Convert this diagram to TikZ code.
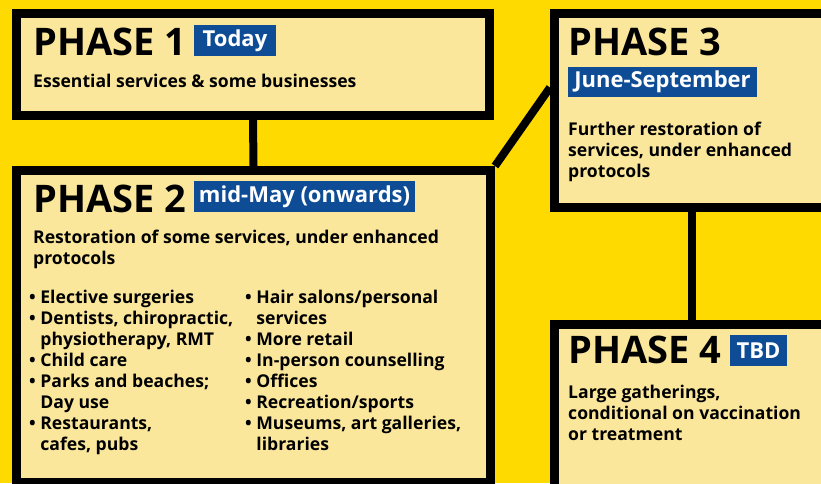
\documentclass[tikz,border=0pt]{standalone}
\usepackage{fontspec}
\setmainfont{Open Sans}
\usetikzlibrary{calc}
\definecolor{hgelb}{HTML}{FFDA00}
\definecolor{boxgelb}{HTML}{FBE79B}
\definecolor{blau}{HTML}{0E4C96}
\tikzset{
  phasebox/.style={draw=black,fill=boxgelb,line width=9pt,inner sep=0pt,anchor=north west},
  link/.style={black,line width=8pt},
  titel/.style={anchor=base west,inner sep=0pt,font=\fontsize{38}{38}\selectfont\bfseries},
  badge/.style={fill=blau,text=white,inner sep=0pt,minimum height=31pt,font=\fontsize{22}{22}\selectfont\bfseries},
  txt/.style={anchor=base west,inner sep=0pt,align=left,font=\fontsize{17.6}{21}\selectfont\bfseries},
}
\newcommand{\pkt}{\textbullet\ }
\newcommand{\ein}{\phantom{\textbullet}\ }

\begin{document}
\begin{tikzpicture}[x=1pt,y=-1pt]
  \useasboundingbox (0,0) rectangle (821,483);
  \fill[hgelb] (0,0) rectangle (821,483);
  \clip (0,0) rectangle (821,483);
  % Kaesten
  \node[phasebox,minimum width=473pt,minimum height=102pt] (p1) at (12,9) {};
  \node[phasebox,minimum width=474pt,minimum height=312pt] (p2) at (12,166) {};
  \node[phasebox,minimum width=290pt,minimum height=194pt] (p3) at (550,9) {};
  \node[phasebox,minimum width=290pt,minimum height=175pt] (p4) at (550,320) {};
  % Verbindungen
  \draw[link] (p1.south) -- (p2.north);
  \draw[link] (p2.north east) -- ([yshift=23pt]p3.west);
  \draw[link] ([xshift=-8pt]p3.south) -- ([xshift=-8pt]p3.south |- p4.north);
  % Phase 1
  \node[titel] (t1) at (33,55) {PHASE 1};
  \node[badge,minimum width=82pt] (d1) at (235,40.5) {Today};
  \node[txt] (x1) at (33,87) {Essential services \& some businesses};
  % Phase 2 (base = letzte Zeile)
  \node[titel] (t2) at (33,212) {PHASE 2};
  \node[badge,minimum width=221pt] (d2) at (304.5,196.5) {mid-May (onwards)};
  \node[txt] (x2) at (33,264) {Restoration of some services, under enhanced\\protocols};
  \node[txt] (l2) at (29,450) {\pkt Elective surgeries\\
    \pkt Dentists, chiropractic,\\ \ein physiotherapy, RMT\\
    \pkt Child care\\
    \pkt Parks and beaches;\\ \ein Day use\\
    \pkt Restaurants,\\ \ein cafes, pubs};
  \node[txt] (r2) at (245,450) {\pkt Hair salons/personal\\ \ein services\\
    \pkt More retail\\
    \pkt In-person counselling\\
    \pkt Offices\\
    \pkt Recreation/sports\\
    \pkt Museums, art galleries,\\ \ein libraries};
  % Phase 3
  \node[titel] (t3) at (568,55) {PHASE 3};
  \node[badge,minimum width=189pt,minimum height=30pt] (d3) at (662.5,82) {June-September};
  \node[txt] (x3) at (568,177) {Further restoration of\\services, under enhanced\\protocols};
  % Phase 4
  \node[titel] (t4) at (568,363) {PHASE 4};
  \node[badge,minimum width=57pt] (d4) at (758.5,350.5) {TBD};
  \node[txt] (x4) at (568,440) {Large gatherings,\\conditional on vaccination\\or treatment};
\end{tikzpicture}
\end{document}
